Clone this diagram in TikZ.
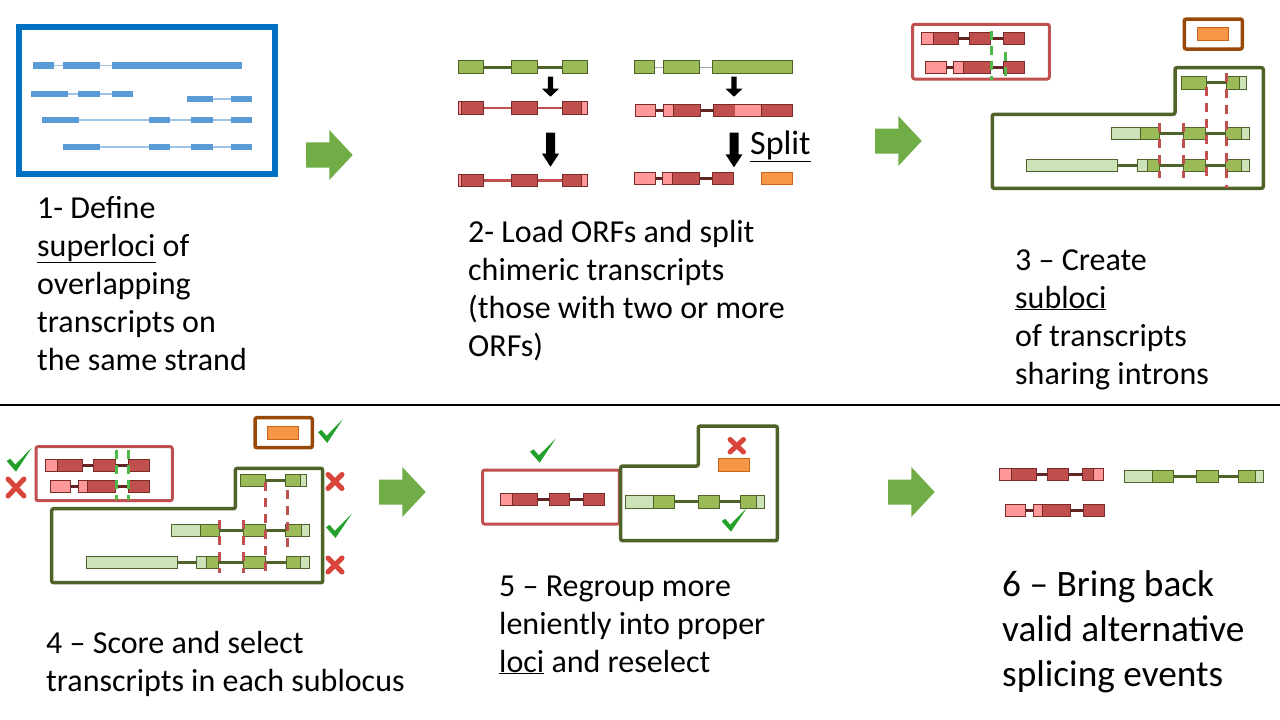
\documentclass[tikz,border=0pt]{standalone}
\usepackage{fontspec}
\setmainfont{Carlito}
\definecolor{tblue}{HTML}{5B9BD5}
\definecolor{tbluel}{HTML}{9DC3E6}
\definecolor{boxblue}{HTML}{0070C0}
\definecolor{exgreen}{HTML}{9BBB59}
\definecolor{lightgreen}{HTML}{CCE2B8}
\definecolor{olive}{HTML}{4F6228}
\definecolor{exred}{HTML}{C0504D}
\definecolor{darkred}{HTML}{7A2A28}
\definecolor{intred}{HTML}{632523}
\definecolor{expink}{HTML}{FF9999}
\definecolor{exorange}{HTML}{F79646}
\definecolor{orangeb}{HTML}{C8651B}
\definecolor{brownb}{HTML}{984807}
\definecolor{arrgreen}{HTML}{70AD47}
\definecolor{checkg}{HTML}{22A02A}
\definecolor{crossr}{HTML}{D9443B}
\definecolor{dashg}{HTML}{4EB848}
\newcommand\myex[4]{\draw[#1] (#2,{#4-6.2}) rectangle (#3,{#4+6.2});}
\newcommand\mybex[3]{\fill[tblue] (#1,{#3-3.2}) rectangle (#2,{#3+3.2});}
\newcommand\myin[4]{\draw[#1] (#2,#4) -- (#3,#4);}
\newcommand\mycheck[4]{\fill[checkg] (#1,{#2+0.55*#4}) -- ({#1+0.14*#3},{#2+0.45*#4}) -- ({#1+0.34*#3},{#2+0.70*#4}) -- ({#1+#3},#2) -- ({#1+0.37*#3},{#2+#4}) -- cycle;}
\newcommand\mycross[4]{\draw[crossst] (#1,#2) -- (#3,#4) (#1,#4) -- (#3,#2);}
% big green arrow: x0 shaft start, xm head start, x1 tip, yc center, hs half shaft, hh half head
\newcommand\mygarrow[6]{\fill[arrgreen] (#1,{#4-#5}) -- (#2,{#4-#5}) -- (#2,{#4-#6}) -- (#3,#4) -- (#2,{#4+#6}) -- (#2,{#4+#5}) -- (#1,{#4+#5}) -- cycle;}
% black down arrow: xc, y0, y1 tip, head length, half shaft, half head
\newcommand\mydarrow[6]{\fill[black] ({#1-#5},#2) -- ({#1+#5},#2) -- ({#1+#5},{#3-#4}) -- ({#1+#6},{#3-#4}) -- (#1,#3) -- ({#1-#6},{#3-#4}) -- ({#1-#5},{#3-#4}) -- cycle;}
\tikzset{
 gex/.style={fill=exgreen, draw=olive, line width=1},
 lgex/.style={fill=lightgreen, draw=olive, line width=1},
 rex/.style={fill=exred, draw=darkred, line width=1},
 pex/.style={fill=expink, draw=darkred, line width=1},
 oex/.style={fill=exorange, draw=orangeb, line width=1},
 gin/.style={draw=olive, line width=3},
 rin/.style={draw=intred, line width=3},
 lrin/.style={draw=exred, line width=2.5},
 grayin/.style={draw=black!35, line width=1},
 bin/.style={draw=tbluel, line width=1.2},
 redbox/.style={draw=exred, line width=3, rounded corners=2},
 greenbox/.style={draw=olive, line width=3.5, rounded corners=2},
 brownbox/.style={draw=brownb, line width=3.5, rounded corners=2},
 gdash/.style={draw=dashg, line width=3, dash pattern=on 9pt off 6pt},
 rdash/.style={draw=exred, line width=3, dash pattern=on 9pt off 7pt},
 crossst/.style={draw=crossr, line width=5, line cap=round},
 txt/.style={anchor=base west, inner sep=0, font=\fontsize{32}{38.4}\selectfont},
 bigtxt/.style={anchor=base west, inner sep=0, font=\fontsize{37.3}{45}\selectfont},
}
\begin{document}
\begin{tikzpicture}[x=1pt,y=-1pt]
\useasboundingbox (0,0) rectangle (1280,720);
\fill[white] (0,0) rectangle (1280,720);

% ---------- Panel 1 ----------
\draw[boxblue, line width=6] (19,27) rectangle (275,174);
\myin{bin}{33}{241.7}{65.3}
\mybex{33}{53.7}{65.3}\mybex{63.3}{99.7}{65.3}\mybex{112}{241.7}{65.3}
\myin{bin}{31}{132.7}{94}
\mybex{31}{67.7}{94}\mybex{78}{99.7}{94}\mybex{112}{132.7}{94}
\myin{bin}{187}{251.7}{99}
\mybex{187}{212.7}{99}\mybex{231}{251.7}{99}
\myin{bin}{42}{251.7}{120}
\mybex{42}{78.7}{120}\mybex{149}{169.7}{120}\mybex{191}{212.7}{120}\mybex{231}{251.7}{120}
\myin{bin}{63.3}{251.7}{147}
\mybex{63.3}{99.7}{147}\mybex{149}{169.7}{147}\mybex{191}{212.7}{147}\mybex{231}{251.7}{147}

\mygarrow{306}{329.3}{352.7}{155}{12.7}{25}

\node[txt] (t1a) at (37,218) {1- Define};
\node[txt] (t1b) at (37,256) {\underline{superloci} of};
\node[txt] (t1c) at (37,294) {overlapping};
\node[txt] (t1d) at (37,332) {transcripts on};
\node[txt] (t1e) at (37,370) {the same strand};

% ---------- Panel 2 ----------
% left column
\myin{gin}{458.3}{587.3}{67}
\myex{gex}{458.3}{483.3}{67}\myex{gex}{511.3}{537.3}{67}\myex{gex}{562.3}{587.3}{67}
\mydarrow{550.5}{76.7}{96.7}{8}{2.7}{8.5}
\foreach \yy in {108,180.6}{
 \myin{lrin}{458.3}{587.3}{\yy}
 \myex{rex}{458.3}{483.3}{\yy}\myex{pex}{458.3}{461.3}{\yy}
 \myex{rex}{511.3}{537.3}{\yy}
 \myex{rex}{562.3}{587.3}{\yy}\myex{pex}{581.7}{587.3}{\yy}
}
\mydarrow{550.5}{132.7}{166.7}{13}{4.5}{8.5}
% right column
\myin{grayin}{634.3}{712.3}{67}
\myex{gex}{634.3}{654.3}{67}\myex{gex}{663.3}{699.3}{67}\myex{gex}{712.3}{792.3}{67}
\mydarrow{734}{76.7}{96.7}{8}{2.7}{8.5}
\myin{rin}{655}{713.3}{110.7}
\myex{pex}{635}{655.3}{110.7}
\myex{pex}{663.3}{673.3}{110.7}\myex{rex}{673.3}{700}{110.7}
\myex{rex}{713.3}{735}{110.7}
\myex{rex}{761.7}{792.3}{110.7}
\draw[darkred, line width=1] (713.3,104.5) rectangle (792.3,116.9);
\fill[expink] (735,105) rectangle (761.2,116.4);
\mydarrow{734}{132.7}{167.3}{13}{4.5}{8.5}
\node[anchor=base west, inner sep=0, font=\fontsize{34}{40}\selectfont] (split) at (750,154) {\underline{Split}};
\myin{rin}{655}{712.3}{178.7}
\myex{pex}{634.3}{655.3}{178.7}
\myex{pex}{662.3}{672.7}{178.7}\myex{rex}{672.7}{699.3}{178.7}
\myex{rex}{712.3}{733.3}{178.7}
\myex{oex}{761.7}{792.3}{178.7}

\mygarrow{875}{898.3}{921.7}{141}{12.5}{25}

\node[txt] (t2a) at (468,242) {2- Load ORFs and split};
\node[txt] (t2b) at (468,280) {chimeric transcripts};
\node[txt] (t2c) at (468,318) {(those with two or more};
\node[txt] (t2d) at (468,356) {ORFs)};

% ---------- Panel 3 ----------
\draw[redbox] (912.7,24.3) rectangle (1049.3,79);
\myin{rin}{933}{1024}{38.3}
\myex{pex}{921.7}{933.3}{38.3}\myex{rex}{933.3}{958.3}{38.3}
\myex{rex}{969}{990.7}{38.3}\myex{rex}{1003.3}{1024.3}{38.3}
\myin{rin}{946}{1024}{67.2}
\myex{pex}{925.7}{946.7}{67.2}
\myex{pex}{953.7}{963.7}{67.2}\myex{rex}{963.7}{990.7}{67.2}
\myex{rex}{1003.3}{1024.3}{67.2}
\draw[gdash] (991.3,31) -- (991.3,80);
\draw[gdash] (1005,52) -- (1005,80);

\draw[brownbox] (1184.3,19) rectangle (1242.3,49);
\fill[exorange] (1197.3,27.7) rectangle (1228.7,40.3);
\draw[orangeb, line width=0.6] (1197.3,27.7) rectangle (1228.7,40.3);

\draw[greenbox] (992.3,114.3) -- (1175,114.3) -- (1175,67.7) -- (1263.3,67.7) -- (1263.3,188.3) -- (992.3,188.3) -- cycle;
\myin{gin}{1206}{1226.3}{82.8}
\myex{gex}{1181.7}{1206.3}{82.8}\myex{gex}{1226.3}{1239.7}{82.8}\myex{lgex}{1239.7}{1246.3}{82.8}
\myin{gin}{1159}{1226}{133.3}
\myex{lgex}{1111.7}{1140}{133.3}\myex{gex}{1140}{1159.3}{133.3}
\myex{gex}{1183.3}{1205.7}{133.3}
\myex{gex}{1225.7}{1241.7}{133.3}\myex{lgex}{1241.7}{1249.3}{133.3}
\myin{gin}{1117}{1226}{165.3}
\myex{lgex}{1026.7}{1117.3}{165.3}
\myex{lgex}{1137.3}{1147.7}{165.3}\myex{gex}{1147.7}{1159.3}{165.3}
\myex{gex}{1183.3}{1205.7}{165.3}
\myex{gex}{1225.7}{1241.7}{165.3}\myex{lgex}{1241.7}{1249.3}{165.3}
\draw[rdash] (1159.3,123) -- (1159.3,178);
\draw[rdash] (1183.3,123) -- (1183.3,178);
\draw[rdash] (1206.7,87) -- (1206.7,178);
\draw[rdash] (1226.7,73) -- (1226.7,188);

\node[txt] (t3a) at (1015,270) {3 -- Create};
\node[txt] (t3b) at (1015,308) {\underline{subloci}};
\node[txt] (t3c) at (1015,346) {of transcripts};
\node[txt] (t3d) at (1015,384) {sharing introns};

% ---------- divider ----------
\draw[black, line width=1.5] (0,405) -- (1280,405);

% ---------- Panel 4 ----------
\draw[redbox] (36,446.7) rectangle (172.3,500.7);
\myin{rin}{57}{149}{465.5}
\myex{pex}{45.3}{57.3}{465.5}\myex{rex}{57.3}{82.3}{465.5}
\myex{rex}{93.3}{115}{465.5}\myex{rex}{128.3}{149.3}{465.5}
\myin{rin}{70}{149}{486.5}
\myex{pex}{50.3}{70.3}{486.5}
\myex{pex}{78.3}{87.7}{486.5}\myex{rex}{87.7}{115}{486.5}
\myex{rex}{128.3}{149.3}{486.5}
\draw[gdash] (116.3,450) -- (116.3,500);
\draw[gdash] (128.3,450) -- (128.3,500);
\mycheck{6.7}{448}{25}{23.7}
\mycross{8}{479}{24}{496}

\draw[brownbox] (255,417.7) rectangle (312.3,447.7);
\fill[exorange] (267.7,426.7) rectangle (298.3,439.3);
\draw[orangeb, line width=0.6] (267.7,426.7) rectangle (298.3,439.3);
\mycheck{318}{419}{25}{24}

\draw[greenbox] (51.7,508.7) -- (235.3,508.7) -- (235.3,468.3) -- (322.7,468.3) -- (322.7,582.7) -- (51.7,582.7) -- cycle;
\myin{gin}{265}{286}{480.5}
\myex{gex}{240.7}{265.7}{480.5}\myex{gex}{285.7}{300}{480.5}\myex{lgex}{300}{306}{480.5}
\myin{gin}{219}{286}{530.5}
\myex{lgex}{171.3}{200}{530.5}\myex{gex}{200}{219.3}{530.5}
\myex{gex}{243.3}{265}{530.5}
\myex{gex}{285.7}{301.7}{530.5}\myex{lgex}{301.7}{309.3}{530.5}
\myin{gin}{177}{286}{562.5}
\myex{lgex}{86.7}{177.3}{562.5}
\myex{lgex}{196.7}{206.7}{562.5}\myex{gex}{206.7}{218.7}{562.5}
\myex{gex}{243.3}{265}{562.5}
\myex{gex}{286}{300}{562.5}\myex{lgex}{300}{309.3}{562.5}
\draw[rdash] (219.3,520) -- (219.3,573);
\draw[rdash] (243.3,520) -- (243.3,573);
\draw[rdash] (265.7,482) -- (265.7,573);
\draw[rdash] (287.3,490) -- (287.3,548);
\mycross{328}{474.5}{342}{488.5}
\mycheck{326}{514}{25.7}{24}
\mycross{328}{558}{342}{572}

\mygarrow{379}{402.3}{425.7}{492}{12.5}{25}

\node[txt] (t4a) at (46,653) {4 -- Score and select};
\node[txt] (t4b) at (46,691) {transcripts in each sublocus};

% ---------- Panel 5 ----------
\mycheck{530}{438.3}{26}{24.4}
\draw[redbox] (482.7,470) rectangle (619.3,524);
\myin{rin}{537}{604}{499.5}
\myex{pex}{500.7}{512.7}{499.5}\myex{rex}{512.7}{537.7}{499.5}
\myex{rex}{549.3}{569.3}{499.5}\myex{rex}{583.3}{604.3}{499.5}

\draw[greenbox] (620.7,466) -- (698.3,466) -- (698.3,426) -- (777.3,426) -- (777.3,540.7) -- (620.7,540.7) -- cycle;
\mycross{730}{439.5}{743.5}{452}
\fill[exorange] (718.3,458.3) rectangle (749.3,471);
\draw[orangeb, line width=0.6] (718.3,458.3) rectangle (749.3,471);
\myin{gin}{674}{740}{501.8}
\myex{lgex}{625.7}{653.3}{501.8}\myex{gex}{653.3}{674.3}{501.8}
\myex{gex}{698.3}{719.3}{501.8}
\myex{gex}{740}{756.7}{501.8}\myex{lgex}{756.7}{764.3}{501.8}
\mycheck{721.7}{508.3}{25}{23.4}

\node[txt] (t5a) at (499,596) {5 -- Regroup more};
\node[txt] (t5b) at (499,634) {leniently into proper};
\node[txt] (t5c) at (499,672) {\underline{loci} and reselect};

% ---------- Panel 6 ----------
\mygarrow{888}{911.3}{934.7}{492}{12.5}{25}

\myin{rin}{1036}{1083}{474.5}
\myex{pex}{999.3}{1011.7}{474.5}\myex{rex}{1011.7}{1036.7}{474.5}
\myex{rex}{1047.3}{1068.3}{474.5}
\myex{rex}{1082.3}{1093.7}{474.5}\myex{pex}{1093.7}{1103.7}{474.5}
\myin{gin}{1173}{1239}{476.5}
\myex{lgex}{1124.3}{1152.7}{476.5}\myex{gex}{1152.7}{1173.3}{476.5}
\myex{gex}{1196.7}{1218.7}{476.5}
\myex{gex}{1238.3}{1255}{476.5}\myex{lgex}{1255}{1263.7}{476.5}
\myin{rin}{1025}{1084}{510.5}
\myex{pex}{1005.3}{1025.7}{510.5}
\myex{pex}{1033.3}{1042.3}{510.5}\myex{rex}{1042.3}{1070.7}{510.5}
\myex{rex}{1083.3}{1104.3}{510.5}

\node[bigtxt] (t6a) at (1002,596) {6 -- Bring back};
\node[bigtxt] (t6b) at (1002,641) {valid alternative};
\node[bigtxt] (t6c) at (1002,686) {splicing events};
\end{tikzpicture}
\end{document}
